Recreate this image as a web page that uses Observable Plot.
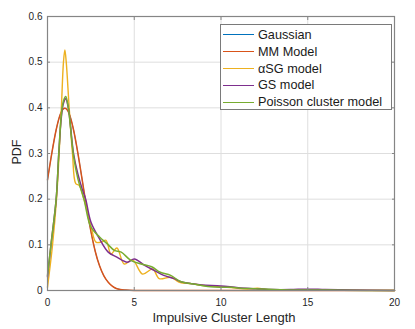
<!DOCTYPE html>
<html>
<head>
<meta charset="utf-8">
<script src="https://cdn.jsdelivr.net/npm/d3@7"></script>
<script src="https://cdn.jsdelivr.net/npm/@observablehq/plot@0.6"></script>
<style>
  body { margin: 0; background: #fff; }
  #wrap { position: relative; width: 415px; height: 329px; font-family: "Liberation Sans", Arial, Helvetica, sans-serif; color: #262626; }
  #wrap svg { position: absolute; left: 0; top: 0; }
  #xlabel { position: absolute; left: 0; width: 448px; top: 310px; text-align: center; font-size: 13px; line-height: 16px; white-space: nowrap; }
  #ylabel { position: absolute; left: 16.5px; top: 152px; transform: translate(-50%, -50%) rotate(-90deg); font-size: 12.5px; line-height: 14px; white-space: nowrap; }
  #legend { position: absolute; left: 220px; top: 24px; width: 172px; height: 86px; background: #fff; border: 1px solid #7a7a7a; box-sizing: border-box; }
  .row { position: absolute; left: 0; height: 16.8px; display: flex; align-items: center; font-size: 12.7px; color: #1a1a1a; white-space: nowrap; }
  .row .sw { width: 31px; height: 0; border-top: 1.5px solid; margin-left: 1.5px; margin-right: 4.5px; }
</style>
</head>
<body>
<div id="wrap"></div>
<script>
// Series names (legend order = draw order)
const seriesNames = ["Gaussian", "MM Model", "\u03B1SG model", "GS model", "Poisson cluster model"];
const xAxisTitle = "Impulsive Cluster Length";
const yAxisTitle = "PDF";

// Gaussian / MM model (identical curves, Gaussian hidden underneath)
const gaussX = [0, 0.25, 0.5, 0.75, 1, 1.25, 1.5, 1.75, 2, 2.25, 2.5, 2.75, 3, 3.25, 3.5, 3.75, 4, 4.5, 5, 6, 20];
const gaussY = [0.242, 0.301, 0.352, 0.387, 0.399, 0.387, 0.352, 0.301, 0.242, 0.183, 0.13, 0.086, 0.054, 0.032, 0.018, 0.009, 0.004, 0.001, 0, 0, 0];
const mmX = [0, 0.25, 0.5, 0.75, 1, 1.25, 1.5, 1.75, 2, 2.25, 2.5, 2.75, 3, 3.25, 3.5, 3.75, 4, 4.5, 5, 6, 20];
const mmY = [0.242, 0.301, 0.352, 0.387, 0.399, 0.387, 0.352, 0.301, 0.242, 0.183, 0.13, 0.086, 0.054, 0.032, 0.018, 0.009, 0.004, 0.001, 0, 0, 0];

// alpha-SG model
const asgX = [0, 0.29, 0.52, 0.67, 0.8, 0.92, 1.0, 1.08, 1.25, 1.44, 1.63, 1.83, 2.1, 2.5, 2.79, 3.1, 3.37, 3.66, 4.0, 4.42, 4.9, 5.48, 6.06, 6.44, 7.1, 7.6, 8.3, 9, 10, 11, 11.5, 12.1, 12.7, 13.5, 15, 16, 17, 20];
const asgY = [0.007, 0.1, 0.2, 0.3, 0.4, 0.5, 0.527, 0.5, 0.4, 0.3, 0.234, 0.23, 0.2, 0.142, 0.106, 0.106, 0.11, 0.08, 0.093, 0.058, 0.067, 0.036, 0.047, 0.026, 0.029, 0.018, 0.015, 0.011, 0.008, 0.005, 0.003, 0.005, 0.002, 0.001, 0.002, 0.001, 0.0005, 0];

// GS model
const gsX = [0, 0.2, 0.5, 0.65, 0.8, 0.92, 1.05, 1.2, 1.5, 1.75, 2.0, 2.2, 2.5, 3.0, 3.5, 4.0, 4.6, 5.0, 5.6, 6.15, 6.7, 7.3, 7.7, 8.3, 8.9, 10, 11, 12, 13, 14, 15, 16, 17.5, 20];
const gsY = [0.03, 0.1, 0.2, 0.3, 0.38, 0.41, 0.42, 0.4, 0.3, 0.255, 0.222, 0.2, 0.15, 0.113, 0.084, 0.073, 0.062, 0.069, 0.055, 0.044, 0.033, 0.026, 0.019, 0.015, 0.012, 0.01, 0.006, 0.004, 0.002, 0.002, 0.003, 0.002, 0.001, 0];

// Poisson cluster model
const pcX = [0, 0.2, 0.5, 0.65, 0.8, 0.92, 1.05, 1.2, 1.5, 1.75, 2.1, 2.5, 3.0, 3.45, 3.85, 4.25, 4.8, 5.4, 6.0, 6.5, 7.1, 7.7, 8.3, 8.9, 9.4, 10, 10.6, 11.1, 12, 13, 14, 15, 16, 17, 20];
const pcY = [0.033, 0.1, 0.2, 0.3, 0.385, 0.415, 0.425, 0.4, 0.295, 0.245, 0.2, 0.139, 0.117, 0.102, 0.088, 0.084, 0.066, 0.058, 0.052, 0.04, 0.033, 0.019, 0.015, 0.011, 0.008, 0.007, 0.007, 0.005, 0.004, 0.002, 0.001, 0.001, 0.001, 0.0005, 0];

const xTicks = [0, 5, 10, 15, 20];
const yTicks = [0, 0.1, 0.2, 0.3, 0.4, 0.5, 0.6];

const seriesColors = ["#0072BD", "#D95319", "#EDB120", "#7E2F8E", "#77AC30"];

const build = (name, xs, ys) => xs.map((x, i) => ({series: name, x, y: Math.max(0, ys[i])}));
const sets = [
  build(seriesNames[0], gaussX, gaussY),
  build(seriesNames[1], mmX, mmY),
  build(seriesNames[2], asgX, asgY),
  build(seriesNames[3], gsX, gsY),
  build(seriesNames[4], pcX, pcY)
];
const curves = ["monotone-x", "monotone-x", "catmull-rom", "catmull-rom", "catmull-rom"];
const widths = [0.7, 1.5, 1.4, 1.5, 1.5];

const axisColor = "#858585";
const chart = Plot.plot({
  width: 415,
  height: 329,
  marginLeft: 47,
  marginRight: 21,
  marginTop: 16,
  marginBottom: 39,
  style: {fontFamily: "Liberation Sans, Arial, Helvetica, sans-serif", fontSize: "10px", color: "#262626", background: "transparent"},
  x: {domain: [0, 20]},
  y: {domain: [0, 0.6]},
  color: {domain: seriesNames, range: seriesColors},
  marks: [
    Plot.gridX(xTicks, {stroke: "#dedede", strokeOpacity: 1}),
    Plot.gridY(yTicks, {stroke: "#dedede", strokeOpacity: 1}),
    ...sets.map((d, i) => Plot.line(d, {x: "x", y: "y", stroke: "series", curve: curves[i], strokeWidth: widths[i]})),
    Plot.frame({stroke: axisColor, strokeWidth: 1.2}),
    Plot.axisX(xTicks, {anchor: "bottom", tickSize: -3, tickPadding: 11, stroke: axisColor, label: null}),
    Plot.axisX(xTicks, {anchor: "top", tickSize: -3, stroke: axisColor, tickFormat: () => "", label: null}),
    Plot.axisY(yTicks, {anchor: "left", tickSize: -3, tickPadding: 8, stroke: axisColor, tickFormat: d3.format(".1~f"), label: null}),
    Plot.axisY(yTicks, {anchor: "right", tickSize: -3, stroke: axisColor, tickFormat: () => "", label: null})
  ]
});
const wrap = document.getElementById("wrap");
wrap.appendChild(chart);

const xl = document.createElement("div");
xl.id = "xlabel";
xl.textContent = xAxisTitle;
wrap.appendChild(xl);
const yl = document.createElement("div");
yl.id = "ylabel";
yl.textContent = yAxisTitle;
wrap.appendChild(yl);

const legend = document.createElement("div");
legend.id = "legend";
seriesNames.forEach((name, i) => {
  const row = document.createElement("div");
  row.className = "row";
  row.style.top = (1.6 + i * 16.8) + "px";
  const sw = document.createElement("span");
  sw.className = "sw";
  sw.style.borderTopColor = seriesColors[i];
  const tx = document.createElement("span");
  tx.textContent = name;
  row.appendChild(sw);
  row.appendChild(tx);
  legend.appendChild(row);
});
wrap.appendChild(legend);
</script>
</body>
</html>
